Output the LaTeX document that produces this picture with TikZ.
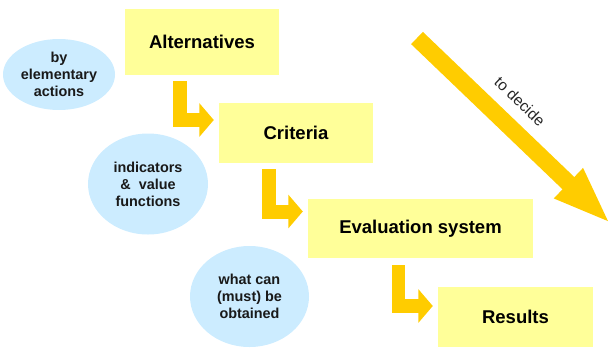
\documentclass[tikz,border=0pt]{standalone}
\usepackage{fontspec}
\setmainfont{Liberation Sans}
\usetikzlibrary{arrows.meta,shapes.geometric}
\definecolor{boxyellow}{HTML}{FFFF99}
\definecolor{bubble}{HTML}{CCECFF}
\definecolor{arrowgold}{HTML}{FFCC00}
\tikzset{
  stepbox/.style={fill=boxyellow, draw=none, inner sep=0pt, font=\fontsize{18.5}{22}\selectfont\bfseries},
  bubblenode/.style={ellipse, fill=bubble, draw=none, inner sep=0pt, align=center, text=black!90, font=\fontsize{14.4}{17}\selectfont\bfseries},
  larrow/.style={draw=arrowgold, line width=14pt, line join=miter, -{Triangle[length=14.5pt,width=33pt]}, shorten >=5pt},
  bigarrow/.style={draw=arrowgold, line width=17pt, -{Triangle[length=59pt,width=37pt]}}
}
\begin{document}
\begin{tikzpicture}[x=1pt,y=-1pt]
\useasboundingbox (0,0) rectangle (611,349);
% boxes
\node[stepbox, minimum width=154pt, minimum height=66pt] (alt) at (202,42) {Alternatives};
\node[stepbox, minimum width=154pt, minimum height=60pt] (crit) at (296,133) {Criteria};
\node[stepbox, minimum width=225pt, minimum height=59pt] (eval) at (420.5,228.5) {Evaluation system};
\node[stepbox, minimum width=155pt, minimum height=60pt] (res) at (515.5,317) {Results};
% bubbles
\node[bubblenode, minimum width=112pt, minimum height=71pt] (b1) at (59,74.5) {by\\elementary\\actions};
\node[bubblenode, minimum width=120pt, minimum height=101pt] (b2) at (148,184) {indicators\\\&\ \ value\\functions};
\node[bubblenode, minimum width=119pt, minimum height=101pt] (b3) at (249.5,296.5) {what can\\(must) be\\obtained};
% L-shaped arrows
\draw[larrow] ([xshift=-22pt,yshift=-6pt]alt.south) |- ([yshift=13pt]crit.west);
\draw[larrow] ([xshift=-27pt,yshift=-6pt]crit.south) |- ([yshift=17pt]eval.west);
\draw[larrow, line width=13.5pt] ([xshift=-22pt,yshift=-7pt]eval.south) |- ([yshift=11pt]res.west);
% diagonal arrow
\coordinate (d1) at (417,38);
\coordinate (d2) at (611,224);
\draw[bigarrow] (d1) -- node[pos=0.44, sloped, above=8pt, font=\fontsize{15.5}{18}\selectfont, text=black!85] {to decide} (d2);
\end{tikzpicture}
\end{document}
